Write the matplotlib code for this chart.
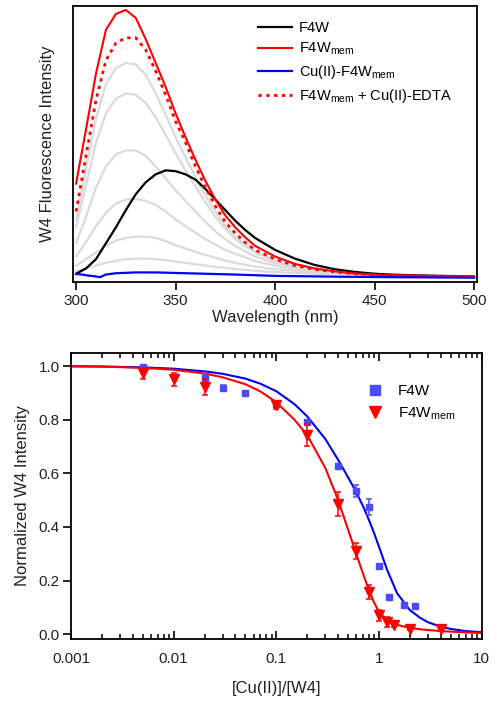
import numpy as np
import matplotlib
matplotlib.use('Agg')
import matplotlib.pyplot as plt
from matplotlib.lines import Line2D

plt.rcParams['font.family'] = ['Liberation Sans', 'DejaVu Sans']
plt.rcParams['mathtext.fontset'] = 'custom'
plt.rcParams['mathtext.rm'] = 'Liberation Sans'
plt.rcParams['mathtext.it'] = 'Liberation Sans'

# ---- top panel: emission spectra ----
wl = [300, 305, 310, 315, 320, 325, 330, 335, 340, 345, 350, 355, 360, 365,
      370, 375, 380, 385, 390, 400, 410, 420, 430, 440, 450, 460, 480, 500]
f4w = [0.5, 2.5, 6, 12, 18, 24.5, 30.5, 35, 38, 39.5, 39.2, 38, 36, 32.5,
       28.5, 24.5, 20.5, 17, 14, 9.5, 6.2, 3.8, 2.2, 1.2, 0.5, 0.1, -0.3, -0.6]
f4w_mem = [34.5, 55, 76, 92.5, 98.5, 100, 97, 89, 80, 71, 61, 52, 43.5, 35.5,
           28.5, 22.5, 18, 14.2, 11, 7, 4.2, 2.5, 1.4, 0.6, 0.1, -0.1, -0.4, -0.6]
f4w_mem_edta = [24, 45, 66, 81, 87.5, 89.5, 89.5, 85, 77, 68, 58, 50, 41, 33,
                26, 20, 15.8, 12.3, 9.5, 6, 3.6, 2.1, 1.2, 0.5, 0.1, -0.1, -0.4, -0.6]

gray_wl = [300, 305, 310, 315, 320, 325, 330, 335, 340, 345, 350, 355, 360,
           365, 370, 375, 380, 390, 400, 420, 440, 460, 500]
titration = [
    [21, 40, 59, 72, 78, 80, 79.5, 75.5, 68.5, 60.5, 52, 44.5, 37, 30, 24, 18.5, 14.5, 9, 5.6, 2.1, 0.8, 0.1, -0.5],
    [18, 34, 50, 61, 66.5, 68.5, 68, 65, 59.5, 53, 46, 39.5, 33.5, 27.5, 22, 17.5, 13.5, 8.5, 5.3, 2.0, 0.8, 0.1, -0.5],
    [12, 22, 33, 41, 45.5, 47, 47, 45, 41, 36.5, 32, 28, 24, 20, 16.5, 13.5, 11, 7, 4.5, 1.8, 0.7, 0.1, -0.5],
    [7, 12.5, 18.5, 23.5, 27, 28.5, 28.7, 28, 26.5, 24, 21, 18.5, 16, 13.5, 11.5, 9.5, 8, 5.3, 3.5, 1.4, 0.6, 0.1, -0.5],
    [3.5, 6, 8.5, 11, 13, 14, 14.5, 14.5, 14, 12.8, 11.3, 10, 8.8, 7.6, 6.5, 5.5, 4.6, 3.2, 2.2, 1.0, 0.4, 0.1, -0.5],
    [1.5, 2.5, 3.6, 4.6, 5.4, 6, 6.2, 6.2, 6, 5.6, 5.1, 4.6, 4.1, 3.6, 3.1, 2.7, 2.3, 1.6, 1.1, 0.5, 0.2, 0, -0.5],
]

cu_wl = [300, 303, 306, 309, 312, 315, 320, 330, 340, 350, 360, 380, 400, 430, 460, 500]
cu_f4w_mem = [0.4, 0.2, -0.2, -0.4, -0.8, 0.2, 0.7, 1.0, 1.0, 0.8, 0.6, 0.2, -0.3, -0.6, -0.8, -1.0]

# ---- bottom panel: titration ----
x_f4w = [0.005, 0.02, 0.03, 0.05, 0.1, 0.2, 0.4, 0.6, 0.8, 1.0, 1.25, 1.75, 2.25]
y_f4w = [0.997, 0.955, 0.917, 0.90, 0.86, 0.79, 0.627, 0.534, 0.473, 0.255, 0.139, 0.108, 0.106]
e_f4w = [0.008, 0.015, 0.012, 0.008, 0.008, 0.006, 0.008, 0.022, 0.03, 0.005, 0.008, 0.005, 0.005]

x_mem = [0.005, 0.01, 0.02, 0.1, 0.2, 0.4, 0.6, 0.8, 1.0, 1.2, 1.4, 2.0, 4.0]
y_mem = [0.973, 0.95, 0.923, 0.855, 0.742, 0.485, 0.311, 0.158, 0.071, 0.046, 0.034, 0.021, 0.018]
e_mem = [0.02, 0.025, 0.03, 0.015, 0.04, 0.045, 0.03, 0.025, 0.02, 0.02, 0.008, 0.006, 0.006]

fit_x = [0.001, 0.002, 0.005, 0.01, 0.02, 0.03, 0.05, 0.07, 0.1, 0.15, 0.2, 0.3, 0.4,
         0.5, 0.6, 0.7, 0.8, 0.9, 1.0, 1.2, 1.5, 2, 2.5, 3, 4, 5, 7, 10]
fit_f4w = [0.999, 0.998, 0.995, 0.99, 0.98, 0.971, 0.953, 0.934, 0.906, 0.858, 0.812,
           0.728, 0.65, 0.585, 0.53, 0.477, 0.425, 0.375, 0.326, 0.24, 0.153, 0.09,
           0.062, 0.045, 0.028, 0.02, 0.012, 0.008]
fit_mem = [0.999, 0.998, 0.993, 0.986, 0.972, 0.958, 0.932, 0.905, 0.865, 0.80, 0.742,
           0.62, 0.50, 0.39, 0.30, 0.225, 0.163, 0.117, 0.083, 0.052, 0.035, 0.024,
           0.019, 0.016, 0.012, 0.01, 0.007, 0.005]

W, H = 497, 705
fig = plt.figure(figsize=(W / 100, H / 100), dpi=100)

tick_col = '#222222'
blue_pts = '#4a4aff'

# top axes
ax1 = fig.add_axes([72.7 / W, 1 - 281.7 / H, 404.3 / W, 275.7 / H])
for g in titration:
    ax1.plot(gray_wl, g, color='#dadada', lw=1.6, zorder=1)
ax1.plot(wl, f4w, color='black', lw=1.6, label='F4W', zorder=3)
ax1.plot(wl, f4w_mem, color='#ff0000', lw=1.5, label=r'F4W$_{\mathrm{mem}}$', zorder=4)
ax1.plot(cu_wl, cu_f4w_mem, color='#0000ff', lw=1.6, label=r'Cu(II)-F4W$_{\mathrm{mem}}$', zorder=5)
ax1.plot(wl, f4w_mem_edta, color='#ff0000', lw=2.0, ls=(0, (1.2, 1.6)),
         label=r'F4W$_{\mathrm{mem}}$ + Cu(II)-EDTA', zorder=3)
ax1.set_xlim(298.3, 501.5)
ax1.set_ylim(-2.5, 101.5)
ax1.set_xticks([300, 350, 400, 450, 500])
ax1.set_yticks([])
ax1.tick_params(axis='x', direction='out', length=6, width=1.2, labelsize=11,
                labelcolor=tick_col, pad=3)
for s in ax1.spines.values():
    s.set_linewidth(1.3)
ax1.set_xlabel('Wavelength (nm)', fontsize=12, color=tick_col, labelpad=1)
ax1.set_ylabel('W4 Fluorescence Intensity', fontsize=12, color=tick_col, labelpad=13)
ax1.legend(loc='upper left', bbox_to_anchor=(0.459, 0.945), frameon=False,
           fontsize=10.5, handlelength=2.3, handletextpad=0.5, borderpad=0,
           borderaxespad=0, labelspacing=0.4)

# bottom axes
ax2 = fig.add_axes([71 / W, 1 - 639.3 / H, 410.7 / W, 286.6 / H])
ax2.plot(fit_x, fit_f4w, color='#0000ee', lw=1.5, zorder=2)
ax2.plot(fit_x, fit_mem, color='#ff0000', lw=1.5, zorder=2)
ax2.errorbar(x_f4w, y_f4w, yerr=e_f4w, fmt='s', ms=4.5, color=blue_pts,
             ecolor=blue_pts, elinewidth=1.1, capsize=2.5, capthick=1.1, zorder=3)
ax2.errorbar(x_mem, y_mem, yerr=e_mem, fmt='v', ms=6.5, color='#ff0000',
             ecolor='#ff0000', elinewidth=1.1, capsize=2.5, capthick=1.1, zorder=4)
ax2.set_xscale('log')
ax2.set_xlim(0.001, 10)
ax2.set_ylim(-0.0186, 1.0496)
ax2.set_xticks([0.001, 0.01, 0.1, 1, 10])
ax2.set_xticklabels(['0.001', '0.01', '0.1', '1', '10'])
ax2.set_yticks([0.0, 0.2, 0.4, 0.6, 0.8, 1.0])
ax2.set_yticklabels(['0.0', '0.2', '0.4', '0.6', '0.8', '1.0'])
ax2.tick_params(axis='x', which='major', direction='in', length=6, width=1.2,
                top=True, labelsize=11, labelcolor=tick_col, pad=9)
ax2.tick_params(axis='x', which='minor', direction='in', length=3.5, width=1.1, top=True)
ax2.tick_params(axis='y', direction='out', length=6, width=1.2, labelsize=11,
                labelcolor=tick_col, pad=2)
for s in ax2.spines.values():
    s.set_linewidth(1.3)
ax2.set_xlabel('[Cu(II)]/[W4]', fontsize=12, color=tick_col, labelpad=11)
ax2.set_ylabel('Normalized W4 Intensity', fontsize=12, color=tick_col, labelpad=6)
handles = [Line2D([], [], ls='none', marker='s', ms=7, color=blue_pts),
           Line2D([], [], ls='none', marker='v', ms=8.5, color='#ff0000')]
ax2.legend(handles, ['F4W', r'F4W$_{\mathrm{mem}}$'], loc='upper left',
           bbox_to_anchor=(0.722, 0.89), frameon=False, fontsize=11,
           handlelength=1.0, handletextpad=1.0, borderpad=0, borderaxespad=0,
           labelspacing=0.45)

fig.savefig('out.png', dpi=100)
